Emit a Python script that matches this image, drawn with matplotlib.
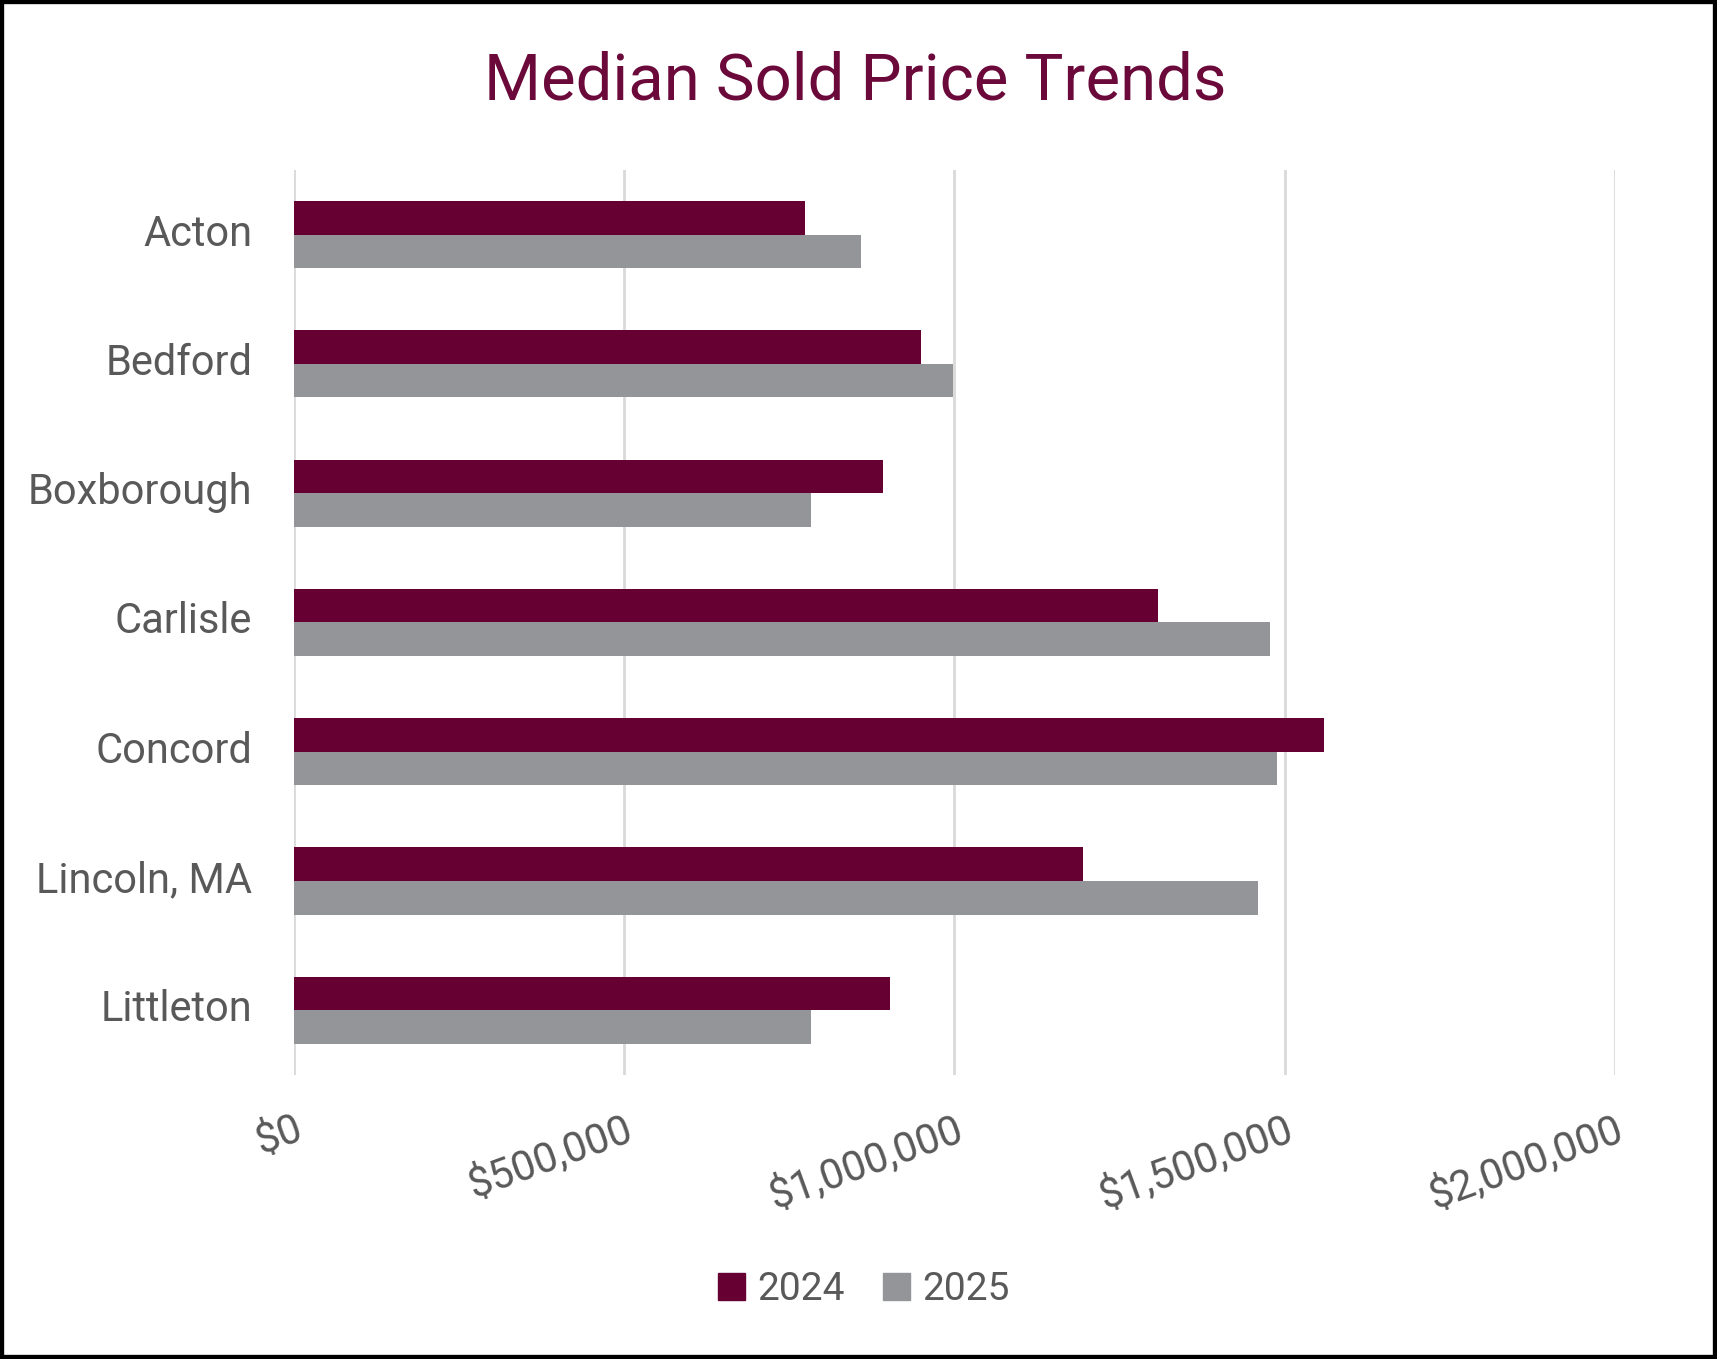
import matplotlib
matplotlib.use("Agg")
import matplotlib.pyplot as plt
import matplotlib.transforms as mtransforms
from matplotlib.patches import Rectangle, Patch
from matplotlib.ticker import FuncFormatter
import numpy as np

categories = ["Acton", "Bedford", "Boxborough", "Carlisle", "Concord", "Lincoln, MA", "Littleton"]
values_2024 = [773000, 950000, 892000, 1308000, 1559000, 1194000, 902000]
values_2025 = [859000, 998000, 783000, 1478000, 1489000, 1459000, 783000]
series_labels = ["2024", "2025"]
xticks = [0, 500000, 1000000, 1500000, 2000000]

C24 = "#660033"
C25 = "#939598"
TXT = "#595959"
TITLE = "#6B0A3A"

plt.rcParams['font.family'] = ['Roboto', 'DejaVu Sans']

fig = plt.figure(figsize=(17.17, 13.59), dpi=100)
ax = fig.add_axes([0.1712, 0.209, 0.9406 - 0.1712, 0.875 - 0.209])

y = np.arange(len(categories))
h = 0.26
ax.barh(y - h / 2, values_2024, height=h, color=C24, label=series_labels[0], zorder=3)
ax.barh(y + h / 2, values_2025, height=h, color=C25, label=series_labels[1], zorder=3)

ax.set_ylim(len(categories) - 0.5, -0.5)
ax.set_xlim(0, 2000000)
ax.set_xticks(xticks)
ax.xaxis.set_major_formatter(FuncFormatter(lambda v, p: "${:,.0f}".format(v)))
ax.set_yticks(y)
ax.set_yticklabels(categories)

ax.grid(axis="x", color="#D9D9D9", linewidth=2, zorder=0)
for s in ax.spines.values():
    s.set_visible(False)
ax.tick_params(axis="both", length=0)
ax.tick_params(axis="y", labelsize=30, labelcolor=TXT, pad=30)
ax.tick_params(axis="x", labelsize=30, labelcolor=TXT, pad=24)
for lab in ax.get_xticklabels():
    lab.set_rotation(20)
    lab.set_ha("right")
    lab.set_va("top")
    lab.set_rotation_mode("anchor")
shift = mtransforms.ScaledTranslation(0, 5 / 100, fig.dpi_scale_trans)
for lab in ax.get_yticklabels():
    lab.set_transform(lab.get_transform() + shift)

fig.text(0.498, 0.940, "Median Sold Price Trends", ha="center", va="center",
         fontsize=47, color=TITLE)

handles = [Patch(color=C24), Patch(color=C25)]
fig.legend(handles, series_labels, loc="center", bbox_to_anchor=(0.503, 0.051),
           ncol=2, frameon=False, fontsize=28, labelcolor=TXT,
           handlelength=0.7, handleheight=0.7, handletextpad=0.3, columnspacing=1.0)

fig.patches.append(Rectangle((0, 0), 1, 1, transform=fig.transFigure, fill=False,
                             edgecolor="black", linewidth=6))

fig.savefig("out.png", dpi=100)
